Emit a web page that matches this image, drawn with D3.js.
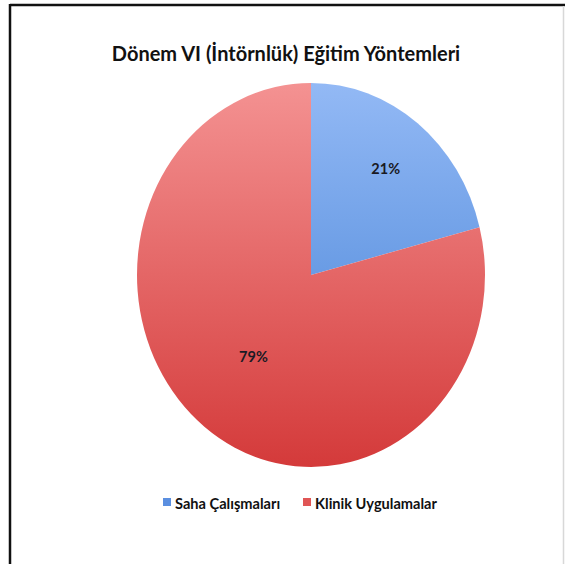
<!DOCTYPE html>
<html>
<head>
<meta charset="utf-8">
<script src="https://cdn.jsdelivr.net/npm/d3@7"></script>
<style>
  body { margin: 0; background: #fff; }
  svg { display: block; font-family: Lato, "Open Sans", sans-serif; }
</style>
</head>
<body>
<svg id="chart"></svg>
<script>
// chart data
var title = 'Dönem VI (İntörnlük) Eğitim Yöntemleri';
var categories = ['Saha Çalışmaları', 'Klinik Uygulamalar'];
var values = [21, 79];
var labels = ['21%', '79%'];

var svgWidth = 566, svgHeight = 564;
var svg = d3.select('#chart')
    .attr('width', svgWidth)
    .attr('height', svgHeight);

// frame (dark top/left, light right edge)
svg.append('line').attr('x1', 10).attr('y1', 5).attr('x2', 565).attr('y2', 5)
    .attr('stroke', '#111').attr('stroke-width', 2.5);
svg.append('line').attr('x1', 10).attr('y1', 4).attr('x2', 10).attr('y2', 564)
    .attr('stroke', '#111').attr('stroke-width', 2.5);
svg.append('line').attr('x1', 563.5).attr('y1', 6).attr('x2', 563.5).attr('y2', 564)
    .attr('stroke', '#d8d8d8').attr('stroke-width', 1.5);

var defs = svg.append('defs');
var grads = [
    { id: 'gBlue', top: '#93b9f5', bottom: '#3f7ed4' },
    { id: 'gRed', top: '#f49292', bottom: '#d43a3a' }
];
grads.forEach(function (g) {
    var lg = defs.append('linearGradient')
        .attr('id', g.id)
        .attr('gradientUnits', 'userSpaceOnUse')
        .attr('x1', 0).attr('y1', -174).attr('x2', 0).attr('y2', 174);
    lg.append('stop').attr('offset', '0%').attr('stop-color', g.top);
    lg.append('stop').attr('offset', '100%').attr('stop-color', g.bottom);
});

var color = d3.scaleOrdinal().domain(categories).range(['url(#gBlue)', 'url(#gRed)']);
var legendColor = d3.scaleOrdinal().domain(categories).range(['#5b8fe0', '#e05555']);

// title
svg.append('text')
    .attr('x', 286)
    .attr('y', 61)
    .attr('text-anchor', 'middle')
    .attr('font-size', 20)
    .attr('font-weight', 'bold')
    .attr('fill', '#111')
    .text(title);

// pie (slightly taller than wide, as in the picture)
var rx = 174, ry = 192;
var g = svg.append('g')
    .attr('transform', 'translate(311,275) scale(1,' + (ry / rx) + ')');

var pie = d3.pie().sort(null).value(function (d) { return d; });
var arc = d3.arc().innerRadius(0).outerRadius(rx);

var arcs = pie(values);

g.selectAll('path')
    .data(arcs)
    .enter().append('path')
    .attr('d', arc)
    .attr('fill', function (d, i) { return color(categories[i]); });

// label distance from centre, as a share of the radius
var labelRadius = [0.7, 0.54];
svg.append('g')
    .attr('transform', 'translate(311,275)')
    .selectAll('text')
    .data(arcs)
    .enter().append('text')
    .attr('transform', function (d, i) {
        var r = rx * labelRadius[i];
        var c = d3.arc().innerRadius(r).outerRadius(r).centroid(d);
        return 'translate(' + c[0] + ',' + (c[1] * ry / rx) + ')';
    })
    .attr('dy', '0.35em')
    .attr('text-anchor', 'middle')
    .attr('font-size', 14.5)
    .attr('font-weight', 'bold')
    .attr('fill', '#1a1a24')
    .text(function (d, i) { return labels[i]; });

// legend
var legendX = [163, 303];
var legend = svg.append('g').selectAll('g')
    .data(categories)
    .enter().append('g')
    .attr('transform', function (d, i) { return 'translate(' + legendX[i] + ',498)'; });

legend.append('rect')
    .attr('width', 8).attr('height', 8)
    .attr('fill', function (d) { return legendColor(d); });

legend.append('text')
    .attr('x', 12)
    .attr('y', 11)
    .attr('font-size', 14.6)
    .attr('font-weight', 'bold')
    .attr('fill', '#111')
    .text(function (d) { return d; });
</script>
</body>
</html>
